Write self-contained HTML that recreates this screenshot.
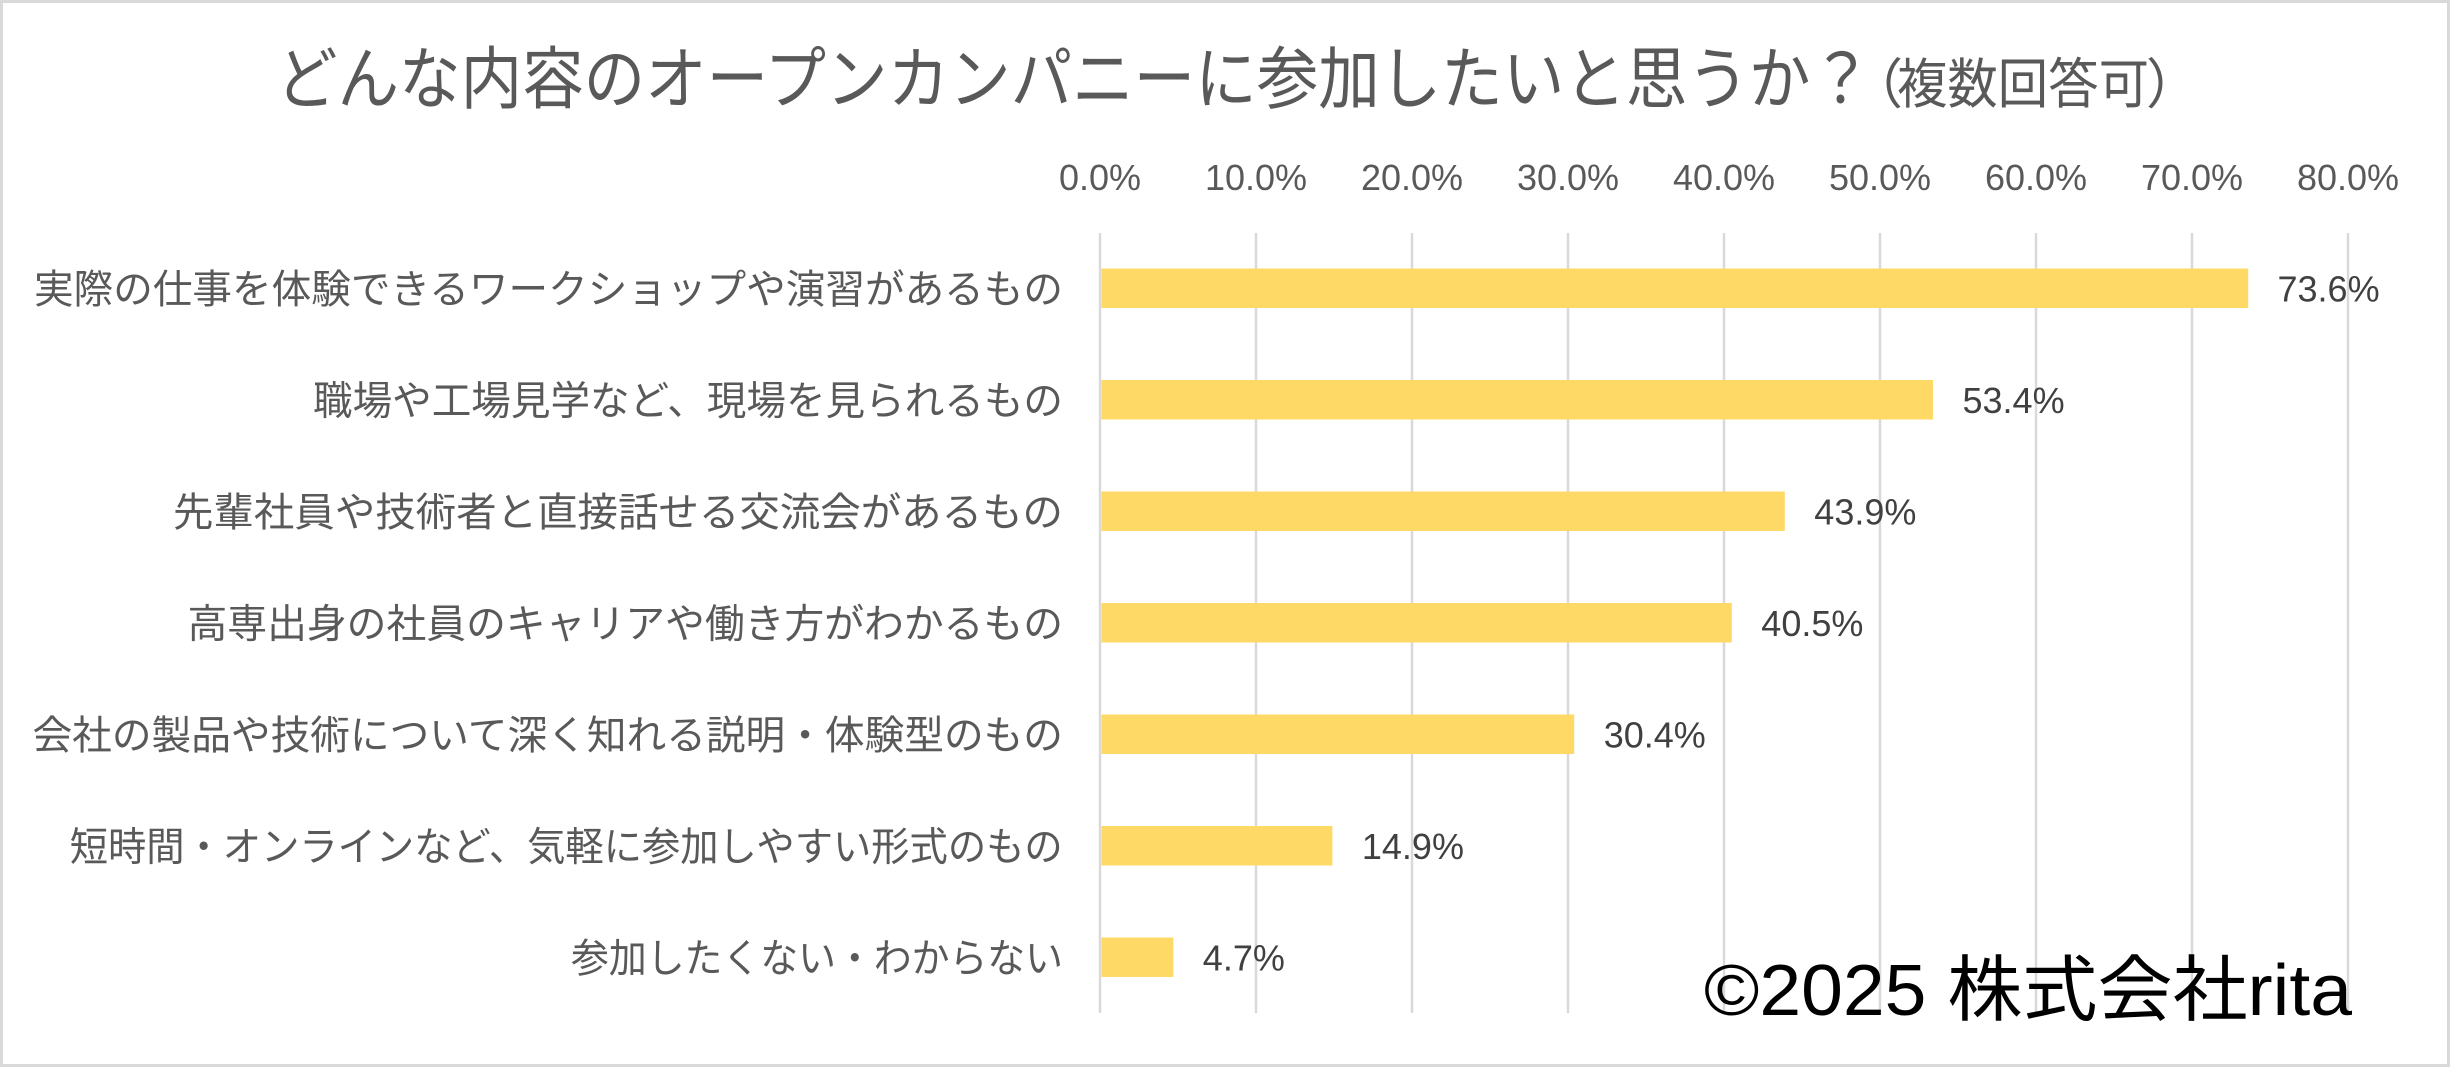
<!DOCTYPE html>
<html>
<head>
<meta charset="utf-8">
<style>
  html, body { margin:0; padding:0; background:#ffffff; }
  body { width:2450px; height:1067px; overflow:hidden; }
  svg { display:block; }
  .jp { font-family: "Liberation Sans", "Noto Sans CJK JP", sans-serif; }
  .num { font-family: "Liberation Sans", sans-serif; }
</style>
</head>
<body>
<svg width="2450" height="1067" viewBox="0 0 2450 1067" xmlns="http://www.w3.org/2000/svg">
  <rect x="0" y="0" width="2450" height="1067" fill="#ffffff"/>
  <rect x="1.5" y="1.5" width="2447" height="1064" fill="none" stroke="#d9d9d9" stroke-width="3"/>

  <!-- Title -->
  <text class="jp" x="276" y="103" font-size="68" fill="#595959" textLength="1596" lengthAdjust="spacingAndGlyphs">どんな内容のオープンカンパニーに参加したいと思うか？</text>
  <text class="jp" y="103" font-size="54" fill="#595959"><tspan x="1849">（</tspan><tspan x="1897" textLength="252" lengthAdjust="spacingAndGlyphs">複数回答可</tspan><tspan x="2146">）</tspan></text>

  <!-- Tick labels -->
  <g class="num" font-size="36" fill="#595959" text-anchor="middle">
    <text x="1100" y="190">0.0%</text>
    <text x="1256" y="190">10.0%</text>
    <text x="1412" y="190">20.0%</text>
    <text x="1568" y="190">30.0%</text>
    <text x="1724" y="190">40.0%</text>
    <text x="1880" y="190">50.0%</text>
    <text x="2036" y="190">60.0%</text>
    <text x="2192" y="190">70.0%</text>
    <text x="2348" y="190">80.0%</text>
  </g>

  <!-- Gridlines -->
  <g stroke="#d9d9d9" stroke-width="2.5">
    <line x1="1100" y1="233" x2="1100" y2="1013"/>
    <line x1="1256" y1="233" x2="1256" y2="1013"/>
    <line x1="1412" y1="233" x2="1412" y2="1013"/>
    <line x1="1568" y1="233" x2="1568" y2="1013"/>
    <line x1="1724" y1="233" x2="1724" y2="1013"/>
    <line x1="1880" y1="233" x2="1880" y2="1013"/>
    <line x1="2036" y1="233" x2="2036" y2="1013"/>
    <line x1="2192" y1="233" x2="2192" y2="1013"/>
    <line x1="2348" y1="233" x2="2348" y2="1013"/>
  </g>

  <!-- Bars -->
  <g fill="#FFD966">
    <rect x="1101.5" y="268.5" width="1146.7" height="39.5"/>
    <rect x="1101.5" y="380" width="831.5" height="39.5"/>
    <rect x="1101.5" y="491.5" width="683.3" height="39.5"/>
    <rect x="1101.5" y="603" width="630.3" height="39.5"/>
    <rect x="1101.5" y="714.5" width="472.7" height="39.5"/>
    <rect x="1101.5" y="826" width="230.9" height="39.5"/>
    <rect x="1101.5" y="937.5" width="71.8" height="39.5"/>
  </g>

  <!-- Data labels -->
  <g class="num" font-size="36" fill="#404040">
    <text x="2277.5" y="301.7">73.6%</text>
    <text x="1962.5" y="413.2">53.4%</text>
    <text x="1814.3" y="524.7">43.9%</text>
    <text x="1761.3" y="636.2">40.5%</text>
    <text x="1603.7" y="747.7">30.4%</text>
    <text x="1361.9" y="859.2">14.9%</text>
    <text x="1202.8" y="970.7">4.7%</text>
  </g>

  <!-- Category labels -->
  <g class="jp" font-size="40" fill="#595959">
    <text x="34" y="303" textLength="1029" lengthAdjust="spacingAndGlyphs">実際の仕事を体験できるワークショップや演習があるもの</text>
    <text x="313" y="414.5" textLength="750" lengthAdjust="spacingAndGlyphs">職場や工場見学など、現場を見られるもの</text>
    <text x="173" y="526" textLength="890" lengthAdjust="spacingAndGlyphs">先輩社員や技術者と直接話せる交流会があるもの</text>
    <text x="187.5" y="637.5" textLength="875.5" lengthAdjust="spacingAndGlyphs">高専出身の社員のキャリアや働き方がわかるもの</text>
    <text x="32.5" y="749" textLength="1030.5" lengthAdjust="spacingAndGlyphs">会社の製品や技術について深く知れる説明・体験型のもの</text>
    <text x="69.7" y="860.5" textLength="993" lengthAdjust="spacingAndGlyphs">短時間・オンラインなど、気軽に参加しやすい形式のもの</text>
    <text x="571" y="972" textLength="492" lengthAdjust="spacingAndGlyphs">参加したくない・わからない</text>
  </g>

  <!-- Copyright -->
  <text class="jp" x="1704" y="1015" font-size="72" fill="#000000" textLength="648" lengthAdjust="spacingAndGlyphs">©2025 株式会社rita</text>
</svg>
</body>
</html>
